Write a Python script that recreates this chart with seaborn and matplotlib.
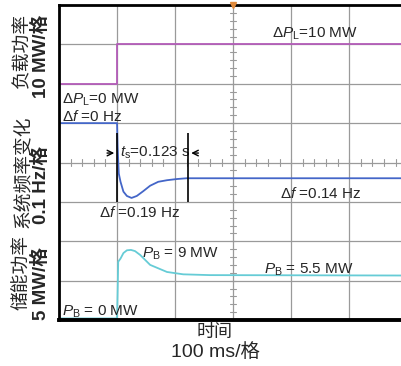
import numpy as np
import pandas as pd
import matplotlib
matplotlib.use("Agg")
import matplotlib.pyplot as plt
import seaborn as sns

# ---------------- data (time in ms) ----------------
load_t = [0, 100, 100, 591]
load_p = [0, 0, 10, 10]          # MW

freq_t = [0, 100, 101, 103, 106, 111, 117, 125, 134, 145, 157, 171, 186, 203, 220, 260, 591]
freq_df = [0, 0, -0.06, -0.128, -0.149, -0.174, -0.185, -0.19, -0.185, -0.173,
           -0.159, -0.149, -0.145, -0.142, -0.14, -0.14, -0.14]   # Hz

stor_t = [0, 100, 101, 102, 106, 111, 117, 124, 131, 140, 157, 186, 214, 260, 591]
stor_p = [0.2, 0.2, 3.5, 7.4, 7.8, 8.5, 8.85, 8.9, 8.75, 8.25, 7.0, 6.1, 5.8, 5.7, 5.65]  # MW

# scope scales: offsets / per-division
LOAD_OFF, LOAD_SCALE = 6, 10.0
FREQ_OFF, FREQ_SCALE = 5, 0.1
STOR_OFF, STOR_SCALE = 0, 5.0

ts = 123  # ms
t_step = 100

sns.set_style("white")
plt.rcParams['font.family'] = ['Liberation Sans', 'Noto Sans CJK SC']
plt.rcParams['mathtext.fontset'] = 'custom'
plt.rcParams['mathtext.rm'] = 'Liberation Sans'
plt.rcParams['mathtext.it'] = 'Liberation Sans:italic'

fig = plt.figure(figsize=(4.02, 3.66), dpi=100)
ax = fig.add_axes([59/402, 46/366, 1 - 59/402, 315/366])

ax.set_xlim(0, 591)
ax.set_ylim(0, 8)
ax.set_xticks(np.arange(0, 600, 100))
ax.set_yticks(np.arange(0, 9, 1))
ax.tick_params(length=0, labelbottom=False, labelleft=False)
ax.grid(True, color='#9a9a9a', lw=0.9)
ax.set_axisbelow(True)
for s in ['left', 'top']:
    ax.spines[s].set_linewidth(2.0)
    ax.spines[s].set_color('black')
ax.spines['bottom'].set_linewidth(2.8)
ax.spines['bottom'].set_color('black')
ax.spines['right'].set_visible(False)

# centre graticule minor ticks
for yy in np.arange(0.2, 8, 0.2):
    ax.plot([295, 305], [yy, yy], color='#9a9a9a', lw=0.8, zorder=1)
for xx in np.arange(20, 591, 20):
    ax.plot([xx, xx], [3.92, 4.08], color='#9a9a9a', lw=0.8, zorder=1)

df_load = pd.DataFrame({'t': load_t, 'y': np.array(load_p) / LOAD_SCALE + LOAD_OFF})
df_freq = pd.DataFrame({'t': freq_t, 'y': np.array(freq_df) / FREQ_SCALE + FREQ_OFF})
df_stor = pd.DataFrame({'t': stor_t, 'y': np.array(stor_p) / STOR_SCALE + STOR_OFF})

sns.lineplot(data=df_load, x='t', y='y', ax=ax, color='#b35cb8', lw=1.3,
             estimator=None, sort=False)
sns.lineplot(data=df_freq, x='t', y='y', ax=ax, color='#4466c8', lw=1.3,
             estimator=None, sort=False)
sns.lineplot(data=df_stor, x='t', y='y', ax=ax, color='#66ccd6', lw=1.3,
             estimator=None, sort=False)
ax.set_xlabel('')
ax.set_ylabel('')

# trigger marker
ax.plot([300], [8], marker='v', color='#e08a3c', ms=5, clip_on=False, zorder=5)

# settling-time annotation
ax.vlines([t_step, t_step + ts], 3.0, 4.75, color='black', lw=1.2, zorder=4)
ya = 4.24
ax.annotate('', xy=(t_step, ya), xytext=(t_step - 22, ya),
            arrowprops=dict(arrowstyle='->', color='black', lw=1.0))
ax.annotate('', xy=(t_step + ts, ya), xytext=(t_step + ts + 22, ya),
            arrowprops=dict(arrowstyle='->', color='black', lw=1.0))

fs = 11
ax.text(105, ya, r'$t_\mathrm{s}$=0.123 s', fontsize=fs, va='center', ha='left')
ax.text(367, 7.05, r'Δ$P_\mathrm{L}$=10 MW', fontsize=fs, va='bottom', ha='left')
ax.text(5, 5.6, r'Δ$P_\mathrm{L}$=0 MW', fontsize=fs, va='center', ha='left')
ax.text(5, 5.18, r'Δ$f$ =0 Hz', fontsize=fs, va='center', ha='left')
ax.text(69, 2.74, r'Δ$f$ =0.19 Hz', fontsize=fs, va='center', ha='left')
ax.text(381, 3.2, r'Δ$f$ =0.14 Hz', fontsize=fs, va='center', ha='left')
ax.text(143, 1.68, r'$P_\mathrm{B}$ = 9 MW', fontsize=fs, va='center', ha='left')
ax.text(353, 1.27, r'$P_\mathrm{B}$ = 5.5 MW', fontsize=fs, va='center', ha='left')
ax.text(5, 0.22, r'$P_\mathrm{B}$ = 0 MW', fontsize=fs, va='center', ha='left')

# y labels (two lines each)
def fy(px):
    return 1 - px / 366
def fx(px):
    return px / 402

lab_fs = 13.5
ylabels = [('负载功率', '10 MW/格', 50, 56),
           ('系统频率变化', '0.1 Hz/格', 172, 185),
           ('储能功率', '5 MW/格', 272, 283)]
for l1, l2, y1, y2 in ylabels:
    fig.text(fx(23), fy(y1), l1, rotation=90, ha='center', va='center', fontsize=lab_fs,
             fontweight='light')
    fig.text(fx(41), fy(y2), l2, rotation=90, ha='center', va='center', fontsize=lab_fs,
             fontweight='bold')

fig.text(fx(215), fy(332), '时间', ha='center', va='center', fontsize=13, fontweight='light')
fig.text(fx(216), fy(352), '100 ms/格', ha='center', va='center', fontsize=14)

fig.savefig('out.png', dpi=100)
